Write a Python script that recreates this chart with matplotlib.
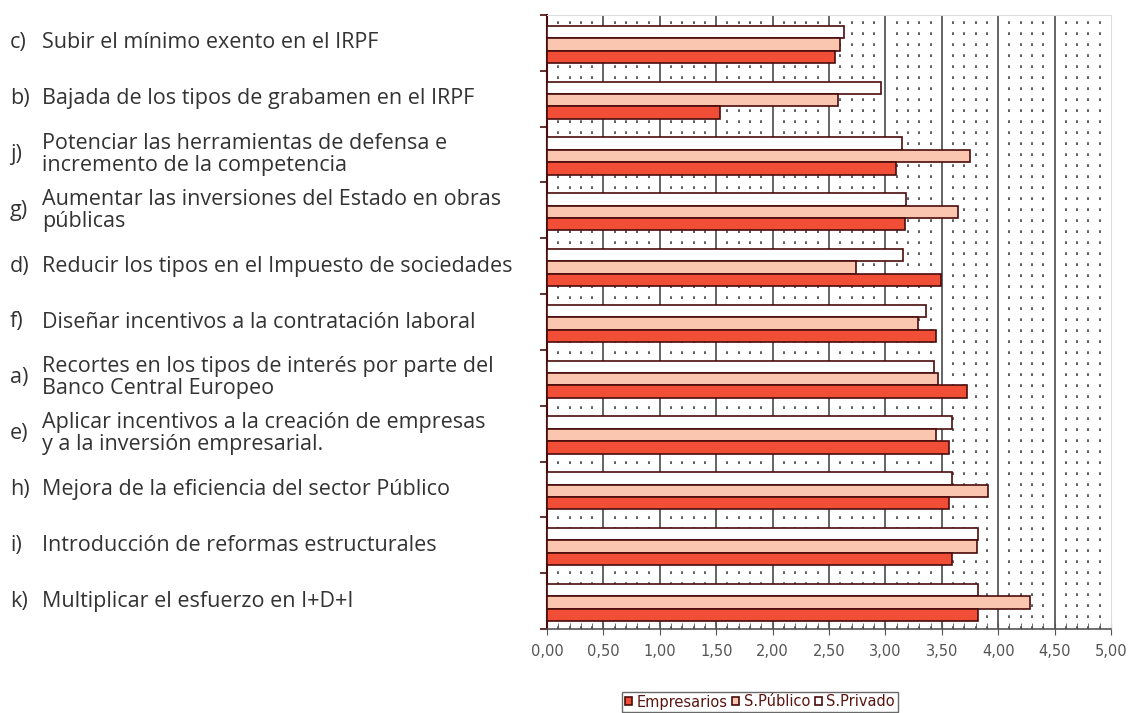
import matplotlib.pyplot as plt
import numpy as np
from matplotlib.transforms import blended_transform_factory

# categories top to bottom
letters = ["c)", "b)", "j)", "g)", "d)", "f)", "a)", "e)", "h)", "i)", "k)"]
labels = [
    "Subir el mínimo exento en el IRPF",
    "Bajada de los tipos de grabamen en el IRPF",
    "Potenciar las herramientas de defensa e\nincremento de la competencia",
    "Aumentar las inversiones del Estado en obras\npúblicas",
    "Reducir los tipos en el Impuesto de sociedades",
    "Diseñar incentivos a la contratación laboral",
    "Recortes en los tipos de interés por parte del\nBanco Central Europeo",
    "Aplicar incentivos a la creación de empresas\ny a la inversión empresarial.",
    "Mejora de la eficiencia del sector Público",
    "Introducción de reformas estructurales",
    "Multiplicar el esfuerzo en I+D+I",
]
empresarios = [2.55, 1.53, 3.09, 3.17, 3.49, 3.45, 3.72, 3.56, 3.56, 3.59, 3.82]
publico = [2.60, 2.58, 3.75, 3.64, 2.74, 3.29, 3.47, 3.45, 3.91, 3.81, 4.28]
privado = [2.63, 2.96, 3.15, 3.18, 3.16, 3.36, 3.43, 3.59, 3.59, 3.82, 3.82]
xticks = [0, 0.5, 1, 1.5, 2, 2.5, 3, 3.5, 4, 4.5, 5]

W, H = 1137, 713
fig = plt.figure(figsize=(W / 100, H / 100), dpi=100)
ax = fig.add_axes([547 / W, (H - 629) / H, (1111 - 547) / W, (629 - 15) / H])

edge = "#4a0c0c"
y = np.arange(len(labels))
h = 0.222
off = 0.025
ax.barh(y - h + off, privado, height=h, color="white", edgecolor=edge, linewidth=1.2, zorder=3, label="S.Privado")
ax.barh(y + off, publico, height=h, color="#fbc6b0", edgecolor=edge, linewidth=1.2, zorder=3, label="S.Público")
ax.barh(y + h + off, empresarios, height=h, color="#f04e37", edgecolor=edge, linewidth=1.2, zorder=3, label="Empresarios")

# grid: solid every 0.5, dotted every 0.1
for v in np.arange(0.1, 5.0, 0.1):
    if abs(v * 2 - round(v * 2)) < 1e-6:
        ax.axvline(v, color="#4a4a4a", lw=1.2, zorder=1)
    else:
        ax.axvline(v, color="#333333", lw=1.1, ls=(0, (1.8, 5.4)), zorder=1)

ax.set_xlim(0, 5)
ax.set_ylim(len(labels) - 0.5, -0.5)
ax.set_xticks(xticks)
ax.set_xticklabels([("%.2f" % v).replace(".", ",") for v in xticks], fontsize=10.5, color="#555555")
ax.set_xticks(np.arange(0, 5.01, 0.1), minor=True)
ax.tick_params(axis="x", which="major", direction="inout", length=8, color="#555555", pad=7)
ax.tick_params(axis="x", which="minor", direction="in", length=4, color="#555555")
ax.set_yticks(np.arange(-0.5, len(labels), 1.0))
ax.set_yticklabels([])
ax.tick_params(axis="y", direction="out", length=5, color=edge, width=1.2)

ax.spines["left"].set_color(edge)
ax.spines["left"].set_linewidth(1.5)
ax.spines["bottom"].set_color("#555555")
ax.spines["bottom"].set_linewidth(1.2)
ax.spines["top"].set_color("#dddddd")
ax.spines["right"].set_color("#dddddd")

# category labels with hanging indent
btr = blended_transform_factory(fig.transFigure, ax.transData)
for i in range(len(labels)):
    fig.text(10 / W, i, letters[i], transform=btr, ha="left", va="center",
             fontsize=15.5, color="#333333", family="Open Sans")
    fig.text(42 / W, i, labels[i], transform=btr, ha="left", va="center",
             fontsize=15.5, color="#333333", family="Open Sans", linespacing=1.08)

handles, lbls = ax.get_legend_handles_labels()
leg = fig.legend(handles[::-1], lbls[::-1], loc="center", bbox_to_anchor=(760 / W, (H - 702) / H),
                 ncol=3, fontsize=10.5, frameon=True, fancybox=False, handlelength=0.5,
                 handleheight=0.5, handletextpad=0.3, columnspacing=0.3, borderpad=0.2,
                 borderaxespad=0, labelcolor="#5a1510")
leg.get_frame().set_edgecolor("#444444")
leg.get_frame().set_linewidth(1.0)

fig.savefig("out.png", dpi=100)
